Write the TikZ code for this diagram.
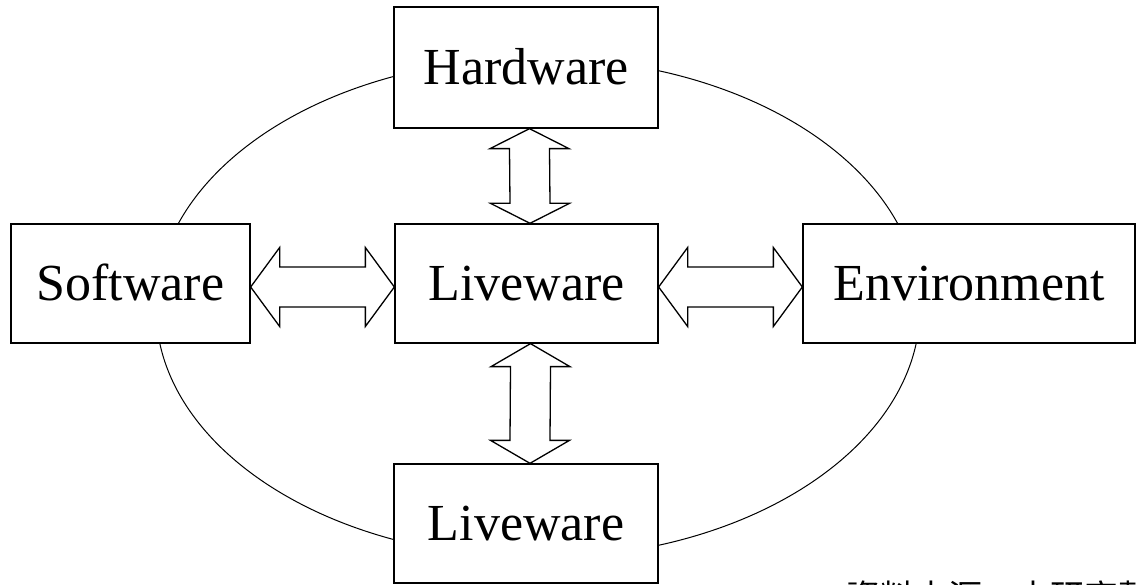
\documentclass[tikz,border=0pt]{standalone}
\usepackage{fontspec}
\setmainfont{Liberation Serif}
\newfontfamily\cjk{Noto Sans CJK TC}
\usetikzlibrary{calc}

% double-headed block arrow between two nodes, left-to-right
% #1 left node, #2 right node, #3 vertical offset, #4 head length
\newcommand\hblockarrow[4]{%
  \draw[blockarrow] let \p1=($(#1.east)+(0pt,#3)$), \p2=($(#2.west)+(0pt,#3)$) in
    (\p1) -- (\x1+#4,\y1+39.5pt) -- (\x1+#4,\y1+20pt) -- (\x2-#4,\y2+20pt)
    -- (\x2-#4,\y2+39.5pt) -- (\p2) -- (\x2-#4,\y2-39.5pt) -- (\x2-#4,\y2-20pt)
    -- (\x1+#4,\y1-20pt) -- (\x1+#4,\y1-39.5pt) -- cycle;}

% double-headed block arrow between two nodes, top-to-bottom
% #1 upper node, #2 lower node, #3 horizontal offset, #4 head length
\newcommand\vblockarrow[4]{%
  \draw[blockarrow] let \p1=($(#1.south)+(#3,0pt)$), \p2=($(#2.north)+(#3,0pt)$) in
    (\p1) -- (\x1+39.5pt,\y1-#4) -- (\x1+20pt,\y1-#4) -- (\x2+20pt,\y2+#4)
    -- (\x2+39.5pt,\y2+#4) -- (\p2) -- (\x2-39.5pt,\y2+#4) -- (\x2-20pt,\y2+#4)
    -- (\x1-20pt,\y1-#4) -- (\x1-39.5pt,\y1-#4) -- cycle;}

\begin{document}
\begin{tikzpicture}[x=1pt,y=-1pt,
  box/.style={draw, fill=white, line width=1.3pt, inner sep=0pt,
    font=\fontsize{52}{60}\selectfont, text height=34pt, text depth=0pt},
  blockarrow/.style={draw, fill=white, line width=1.3pt, line join=miter},
  ring/.style={draw, line width=1pt}]

\useasboundingbox (0,0) rectangle (1136,585);
\clip (0,0) rectangle (1136,585);

% the surrounding SHELL ring
\draw[ring] (538,308) ellipse [x radius=382pt, y radius=250pt];

% the five components
\node[box, minimum width=264pt, minimum height=121pt] (hw)  at (526,67.5)   {Hardware};
\node[box, minimum width=239pt, minimum height=119pt] (sw)  at (130.5,283.5) {Software};
\node[box, minimum width=263pt, minimum height=119pt] (lw)  at (526.5,283.5) {Liveware};
\node[box, minimum width=332pt, minimum height=119pt] (env) at (969,283.5)   {Environment};
\node[box, minimum width=264pt, minimum height=119pt] (lw2) at (526,523.5)   {Liveware};

% interfaces around the central Liveware
\hblockarrow{sw}{lw}{-3.5pt}{29pt}
\hblockarrow{lw}{env}{-3.5pt}{29pt}
\vblockarrow{hw}{lw}{3.5pt}{20pt}
\vblockarrow{lw}{lw2}{4pt}{23pt}

% source note
\node[anchor=base west, inner sep=0pt, font=\cjk\fontsize{34}{40}\selectfont]
  (src) at (846,609) {資料來源：本研究整理};
\end{tikzpicture}
\end{document}
